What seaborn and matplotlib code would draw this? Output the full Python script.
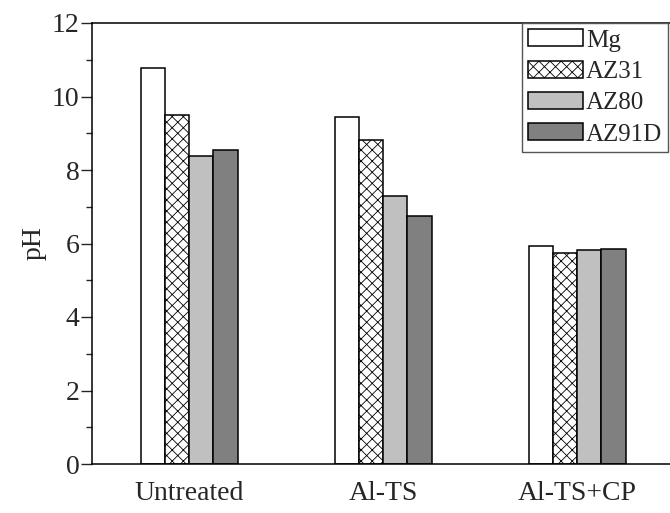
import pandas as pd
import matplotlib
matplotlib.use("Agg")
import matplotlib.pyplot as plt
import seaborn as sns

# valores
tratamientos = ["Untreated", "Al-TS", "Al-TS+CP"]
aleaciones = ["Mg", "AZ31", "AZ80", "AZ91D"]
ph_mg = [10.78, 9.45, 5.94]
ph_az31 = [9.50, 8.82, 5.73]
ph_az80 = [8.39, 7.28, 5.83]
ph_az91d = [8.55, 6.75, 5.86]

colores = ["white", "white", "#c0c0c0", "#808080"]


def construir_df():
    filas = []
    for aleacion, valores in zip(aleaciones, [ph_mg, ph_az31, ph_az80, ph_az91d]):
        for trat, v in zip(tratamientos, valores):
            filas.append({"Tratamiento": trat, "Aleacion": aleacion, "pH": v})
    return pd.DataFrame(filas)


def main():
    sns.set_style("ticks")
    plt.rcParams["font.family"] = ["Liberation Serif", "DejaVu Serif"]
    plt.rcParams["hatch.linewidth"] = 0.6

    df = construir_df()

    fig = plt.figure(figsize=(6.7, 5.13), dpi=100)
    ax = fig.add_axes([92 / 670, 49 / 513, 582 / 670, 441 / 513])

    sns.barplot(
        data=df, x="Tratamiento", y="pH", hue="Aleacion",
        order=tratamientos, hue_order=aleaciones,
        palette=colores, width=0.5, edgecolor="black", linewidth=1.1,
        legend=False, ax=ax,
    )

    for patch in ax.containers[1]:
        patch.set_hatch("xxx")

    ax.set_xlim(-0.5, 2.5)
    ax.set_ylim(0, 12)
    ax.set_yticks(range(0, 13, 2))
    ax.set_yticks(range(1, 12, 2), minor=True)
    ax.tick_params(axis="y", which="major", length=8, width=1, labelsize=20,
                   direction="out", pad=1)
    ax.tick_params(axis="y", which="minor", length=4, width=1, direction="out")
    ax.tick_params(axis="x", length=0, labelsize=20, pad=12)
    ax.set_xlabel("")
    ax.set_ylabel("pH", fontsize=20, labelpad=4)

    for lado in ["left", "bottom", "top", "right"]:
        ax.spines[lado].set_visible(True)
        ax.spines[lado].set_linewidth(1.1)
        ax.spines[lado].set_color("black")

    leg = ax.legend(
        ax.containers, aleaciones,
        loc="upper left", bbox_to_anchor=(522 / 670, 490 / 513),
        bbox_transform=fig.transFigure,
        fontsize=18, handlelength=2.2, handleheight=0.68,
        labelspacing=0.36, handletextpad=0.1, borderpad=0.25,
        borderaxespad=0, fancybox=False, framealpha=1,
    )
    leg.get_frame().set_edgecolor("#555555")
    leg.get_frame().set_linewidth(1.0)

    fig.savefig("out.png", dpi=100)
    plt.close(fig)


if __name__ == "__main__":
    main()
